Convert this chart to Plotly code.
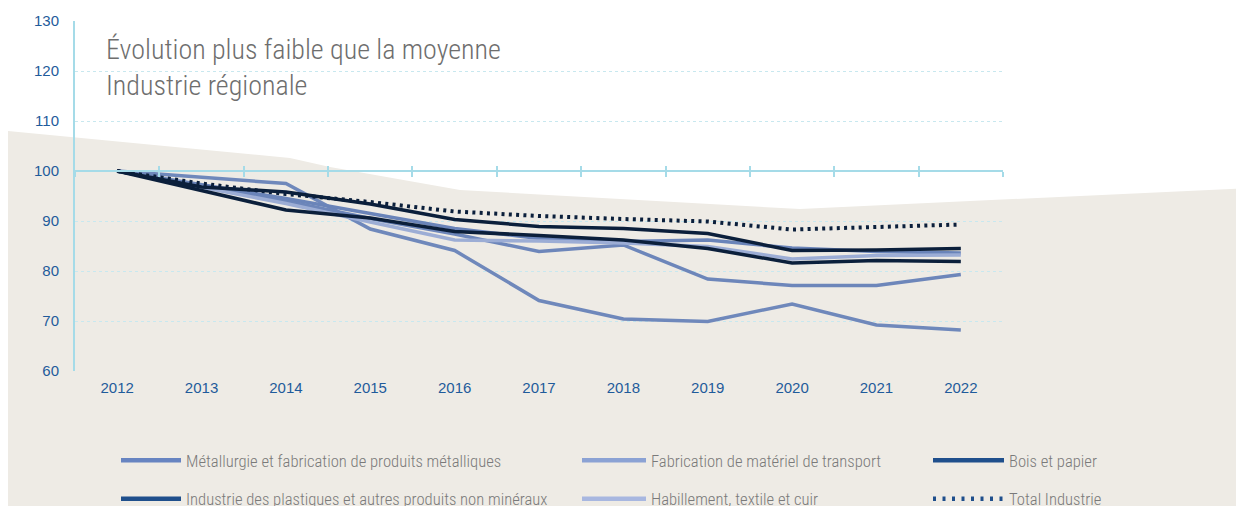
import plotly.graph_objects as go

# ---------------- data ----------------
annees = ["2012", "2013", "2014", "2015", "2016", "2017", "2018", "2019", "2020", "2021", "2022"]

metallurgie = [100, 98.8, 97.5, 88.4, 84.1, 74.1, 70.4, 69.9, 73.4, 69.2, 68.2]
fabrication_transport = [100, 97.0, 94.0, 90.5, 87.4, 83.9, 85.2, 78.4, 77.1, 77.1, 79.3]
autre_secteur = [100, 97.2, 94.5, 91.5, 88.5, 86.5, 85.9, 86.2, 84.6, 83.9, 83.6]
habillement = [100, 96.8, 93.5, 89.8, 86.2, 86.0, 85.6, 84.9, 82.4, 83.1, 83.2]
bois_papier = [100, 96.8, 95.8, 93.4, 90.3, 88.9, 88.5, 87.5, 84.1, 84.2, 84.5]
plastiques = [100, 96.1, 92.2, 90.6, 87.9, 87.1, 86.2, 84.5, 81.6, 82.1, 81.9]
total_industrie = [100, 97.5, 95.4, 93.8, 91.9, 91.0, 90.4, 89.9, 88.3, 88.7, 89.3]

noms = {
    "met": "Métallurgie et fabrication de produits métalliques",
    "fab": "Fabrication de matériel de transport",
    "bois": "Bois et papier",
    "plast": "Industrie des plastiques et autres produits non minéraux",
    "hab": "Habillement, textile et cuir",
    "tot": "Total Industrie",
}

y_ticks = [60, 70, 80, 90, 100, 110, 120, 130]

# ---------------- geometry / style ----------------
# page body has an 8px margin: figure is drawn 8px right/down of the window origin
OFF = 8
W, H = 1244 - OFF, 506 - OFF
PW, PH = 928, 350
ML, MT = 75 - OFF, 21 - OFF
MR, MB = W - ML - PW, H - MT - PH


def px_x(px):
    return (px - OFF - ML) / PW


def px_y(py):
    return (MT + PH - (py - OFF)) / PH


CYAN = "#a5dbe8"
GRID = "#c8e8ef"
TICKC = "#1f5b9b"
DARK = "#0b1f3b"
COND = "Roboto Condensed, Liberation Sans Narrow, DejaVu Sans Condensed, sans-serif"

fig = go.Figure()

# chart lines (legend handled by separate legend entries)
series = [
    (metallurgie, "#6f88bb", 3.5, "solid", noms["met"]),
    (fabrication_transport, "#6d86ba", 3.5, "solid", noms["fab"]),
    (autre_secteur, "#6a84b9", 3.5, "solid", "Autre secteur"),
    (habillement, "#9cadd5", 3.5, "solid", noms["hab"]),
    (plastiques, DARK, 3.5, "solid", noms["plast"]),
    (bois_papier, DARK, 3.5, "solid", noms["bois"]),
    (total_industrie, DARK, 4, "3px,4.3px", noms["tot"]),
]
for vals, col, w, dash, nm in series:
    fig.add_trace(go.Scatter(x=annees, y=vals, mode="lines", name=nm,
                             line=dict(color=col, width=w, dash=dash),
                             showlegend=False))

# invisible helper trace so the upper tick half-axis (x2) is drawn
fig.add_trace(go.Scatter(x=[None], y=[None], xaxis="x2", mode="lines",
                         showlegend=False, hoverinfo="skip"))

# legend entries
leg = [
    ("met", "#6784c1", "solid", "legend"),
    ("plast", "#1f4f8c", "solid", "legend"),
    ("fab", "#8ba2d4", "solid", "legend2"),
    ("hab", "#a8b7e0", "solid", "legend2"),
    ("bois", "#1f4f8c", "solid", "legend3"),
    ("tot", "#1f4f8c", "3px,6.5px", "legend3"),
]
for key, col, dash, lg in leg:
    fig.add_trace(go.Scatter(x=[None], y=[None], mode="lines", name=noms[key],
                             line=dict(color=col, width=4.5, dash=dash),
                             legend=lg, legendgroup=key, showlegend=True))

# beige background band
band_px = [(7, 131), (290, 158), (330, 167), (460, 190), (800, 209), (1250, 188), (1250, 520), (7, 520)]
path = "M " + " L ".join(f"{px_x(a):.5f},{px_y(b):.5f}" for a, b in band_px) + " Z"
fig.add_shape(type="path", path=path, xref="paper", yref="paper",
              fillcolor="#eeebe5", line=dict(width=0), layer="below")

# title
fig.add_annotation(text="Évolution plus faible que la moyenne<br>Industrie régionale",
                   xref="paper", yref="paper", x=px_x(104), y=px_y(31),
                   xanchor="left", yanchor="top", align="left", showarrow=False,
                   font=dict(family=COND, size=28, color="#6e6e6e", weight=300))

leg_common = dict(orientation="v", bgcolor="rgba(0,0,0,0)", borderwidth=0,
                  font=dict(family=COND, size=16.6, color="#7a7a7a", weight=300),
                  tracegroupgap=14, traceorder="grouped",
                  xanchor="left", yanchor="top", y=px_y(443), itemclick=False)

x_pos = (100 - 60) / 70

fig.update_layout(
    width=W, height=H,
    margin=dict(l=ML, r=MR, t=MT, b=MB, autoexpand=False),
    paper_bgcolor="white", plot_bgcolor="rgba(0,0,0,0)",
    showlegend=True,
    legend=dict(x=px_x(116), itemwidth=60, **leg_common),
    legend2=dict(x=px_x(577), itemwidth=64, **leg_common),
    legend3=dict(x=px_x(928), itemwidth=71, **leg_common),
    xaxis=dict(type="category", categoryarray=annees, range=[-0.5, 10.5],
               anchor="free", position=x_pos,
               showline=True, linecolor=CYAN, linewidth=2,
               ticks="outside", tickson="boundaries", ticklen=5, tickwidth=2, tickcolor=CYAN,
               showgrid=False, zeroline=False, automargin=False,
               tickfont=dict(family="Liberation Sans, Arial, sans-serif", size=15, color=TICKC),
               ticklabelstandoff=203),
    xaxis2=dict(type="linear", overlaying="x", anchor="free", position=x_pos,
                range=[-0.5, 10.5], tickvals=[i - 0.5 for i in range(12)],
                ticks="inside", ticklen=5, tickwidth=2, tickcolor=CYAN,
                showticklabels=False, showline=False, showgrid=False,
                zeroline=False, automargin=False),
    yaxis=dict(range=[60, 130], tickvals=y_ticks, showline=True, linecolor=CYAN, linewidth=2,
               showgrid=True, gridcolor=GRID, griddash="dot", gridwidth=1,
               zeroline=False, ticks="", automargin=False, ticklabelstandoff=11,
               tickfont=dict(family="Liberation Sans, Arial, sans-serif", size=15, color=TICKC)),
)

fig.write_html("out.html")
